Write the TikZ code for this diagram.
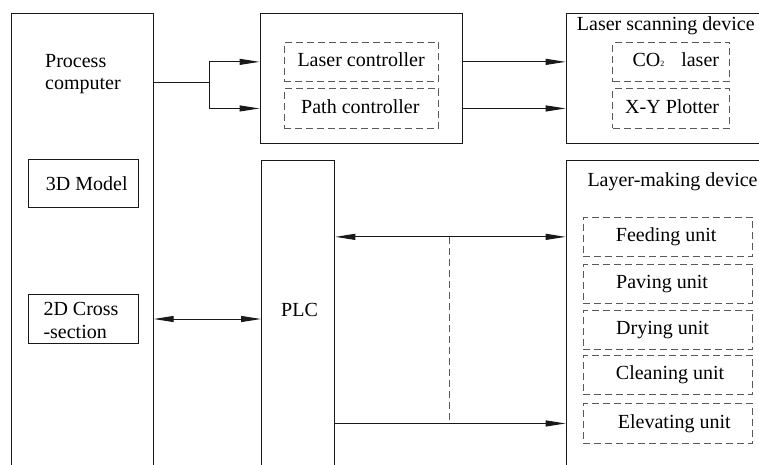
\documentclass[tikz,border=0pt]{standalone}
\usepackage{fontspec}
\setmainfont{Liberation Serif}
\usetikzlibrary{arrows.meta,calc}
\begin{document}
\begin{tikzpicture}[x=1pt,y=-1pt,
  box/.style={draw=black!90, line width=1pt, inner sep=0pt, anchor=north west},
  dbox/.style={draw=black!65, line width=1pt, dash pattern=on 7pt off 4pt, inner sep=0pt, anchor=north west},
  lbl/.style={inner sep=0pt, font=\fontsize{20}{22}\selectfont, anchor=base west},
  conn/.style={draw=black!90, line width=1pt},
  dline/.style={draw=black!65, line width=1pt, dash pattern=on 7pt off 4pt},
  >={Triangle[length=20pt,width=6pt]}
]
\clip (0,0) rectangle (759,464);
% main boxes
\node[box, minimum width=142.2pt, minimum height=480pt] (pc) at (10.5,12.5) {};
\node[box, minimum width=202.2pt, minimum height=130.5pt] (ctrl) at (259.5,12.5) {};
\node[box, minimum width=210pt, minimum height=130.5pt] (lsd) at (565.7,12.5) {};
\node[box, minimum width=73.3pt, minimum height=330pt] (plc) at (261,160.3) {};
\node[box, minimum width=210pt, minimum height=330pt] (lmd) at (565.7,160.3) {};
\node[box, minimum width=110pt, minimum height=48pt] (m3d) at (28.3,159.3) {};
\node[box, minimum width=110pt, minimum height=48.4pt] (cs) at (28.3,294.3) {};
% dashed sub boxes
\node[dbox, minimum width=154.6pt, minimum height=39.3pt] (lc) at (283.7,41.7) {};
\node[dbox, minimum width=154.6pt, minimum height=39.3pt] (pcn) at (283.7,88.3) {};
\node[dbox, minimum width=116.7pt, minimum height=39.3pt] (co2) at (612.3,41.7) {};
\node[dbox, minimum width=116.7pt, minimum height=39.3pt] (xy) at (612.3,88.3) {};
\node[dbox, minimum width=169.6pt, minimum height=39.3pt] (feed) at (582.7,216.7) {};
\node[dbox, minimum width=169.6pt, minimum height=39.3pt] (pave) at (582.7,264) {};
\node[dbox, minimum width=169.6pt, minimum height=39.3pt] (dry) at (582.7,310) {};
\node[dbox, minimum width=169.6pt, minimum height=39.3pt] (clean) at (582.7,355) {};
\node[dbox, minimum width=169.6pt, minimum height=39.3pt] (elev) at (582.7,403.3) {};
% labels
\node[lbl] (t1) at (45,67.7) {Process};
\node[lbl] (t2) at (45,89.3) {computer};
\node[lbl] (t3) at (45.7,190) {3D Model};
\node[lbl] (t4) at (43.3,315.7) {2D Cross};
\node[lbl] (t5) at (43.3,338.3) {-section};
\node[lbl] (t6) at (281,316.7) {PLC};
\node[lbl] (t7) at (297.3,66.4) {Laser controller};
\node[lbl] (t8) at (301,113) {Path controller};
\node[lbl] (t9) at (576.7,30) {Laser scanning device};
\node[lbl] (t10) at (632.3,66.4) {CO{\fontsize{8}{8}\selectfont 2}\hspace{17pt}laser};
\node[lbl] (t11) at (625,113) {X-Y Plotter};
\node[lbl] (t12) at (587.3,186.7) {Layer-making device};
\node[lbl] (t13) at (615.7,241) {Feeding unit};
\node[lbl] (t14) at (616,288.3) {Paving unit};
\node[lbl] (t15) at (616,334.5) {Drying unit};
\node[lbl] (t16) at (615.7,379.5) {Cleaning unit};
\node[lbl] (t17) at (617.7,428) {Elevating unit};
% connectors
\coordinate (split) at (209,82);
\draw[conn] (pc.east |- split) -- (split);
\draw[conn,->] (split) |- (ctrl.west |- lc.center);
\draw[conn,->] (split) |- (ctrl.west |- pcn.center);
\draw[conn,->] (ctrl.east |- lc.center) -- (lsd.west |- lc.center);
\draw[conn,->] (ctrl.east |- pcn.center) -- (lsd.west |- pcn.center);
\draw[conn,<->] (pc.east |- cs.center) -- (plc.west |- cs.center);
\draw[conn,<->] (plc.east |- feed.center) -- (lmd.west |- feed.center);
\draw[conn,->] (plc.east |- elev.center) -- (lmd.west |- elev.center);
\coordinate (dx) at (449,236);
\draw[dline] (dx |- feed.center) -- (dx |- elev.center);
\end{tikzpicture}
\end{document}
